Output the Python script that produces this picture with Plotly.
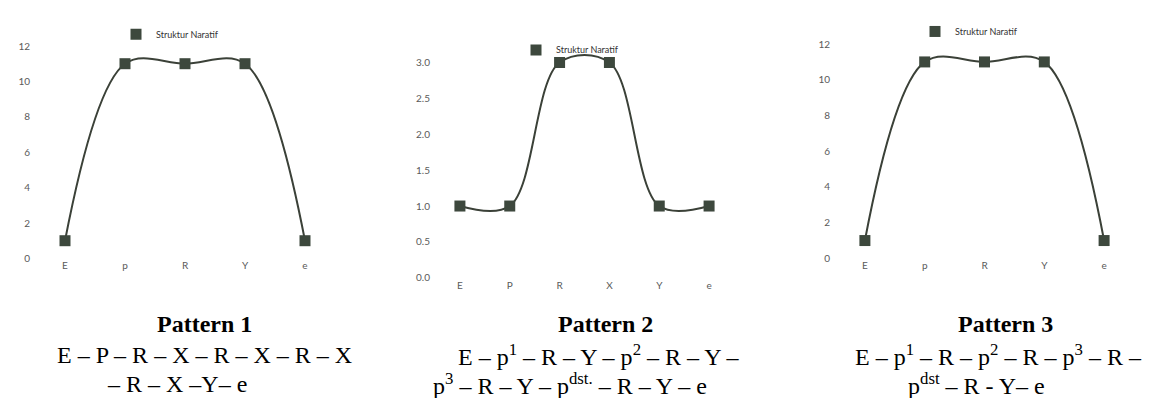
import plotly.graph_objects as go

# data
cats1 = ['E', 'p', 'R', 'Y', 'e']
vals1 = [1, 11, 11, 11, 1]
cats2 = ['E', 'P', 'R', 'X', 'Y', 'e']
vals2 = [1, 1, 3, 3, 1, 1]
cats3 = ['E', 'p', 'R', 'Y', 'e']
vals3 = [1, 11, 11, 11, 1]

series_name = 'Struktur Naratif'
titles = ['Pattern 1', 'Pattern 2', 'Pattern 3']
lines1 = ['E – P – R – X – R – X – R – X', '– R – X –Y– e']
lines2 = ['E – p<sup>1</sup> – R – Y – p<sup>2</sup> – R – Y –',
          'p<sup>3</sup> – R – Y – p<sup>dst.</sup> – R – Y – e']
lines3 = ['E – p<sup>1</sup> – R – p<sup>2</sup> – R – p<sup>3</sup> – R –',
          'p<sup>dst</sup> – R - Y– e']

W, H = 1158, 398
LINE_COL = '#3b4138'
MARK_COL = '#3d483d'
TICK_FONT = dict(family='Lato', size=10, color='#5a5a5a')


def px(x):
    return x / W


def py(y):
    return (H - y) / H


fig = go.Figure()

charts = [
    (cats1, vals1, 'x', 'y', 'legend'),
    (cats2, vals2, 'x2', 'y2', 'legend2'),
    (cats3, vals3, 'x3', 'y3', 'legend3'),
]
for cats, vals, xa, ya, lg in charts:
    fig.add_trace(go.Scatter(
        x=cats, y=vals, mode='lines+markers', name=series_name,
        line=dict(color=LINE_COL, width=2, shape='spline', smoothing=1),
        marker=dict(symbol='square', size=11, color=MARK_COL),
        cliponaxis=False, xaxis=xa, yaxis=ya, showlegend=False))
    # legend entry (square only)
    fig.add_trace(go.Scatter(
        x=[None], y=[None], mode='markers', name=series_name,
        marker=dict(symbol='square', size=11, color=MARK_COL),
        xaxis=xa, yaxis=ya, legend=lg, showlegend=True))

xcommon = dict(type='category', showgrid=False, zeroline=False, showline=False,
               ticks='', tickfont=TICK_FONT)
ycommon = dict(showgrid=False, zeroline=False, showline=False, ticks='',
               tickfont=TICK_FONT, ticklabelstandoff=4)

fig.update_layout(
    width=W, height=H,
    margin=dict(l=0, r=0, t=0, b=0),
    paper_bgcolor='white', plot_bgcolor='white',
    xaxis=dict(xcommon, domain=[px(27), px(327)], range=[-0.5, 4.5], anchor='y'),
    yaxis=dict(ycommon, domain=[py(252), py(33)], range=[0, 12], dtick=2, anchor='x'),
    xaxis2=dict(xcommon, domain=[px(427), px(726)], range=[-0.5, 5.5], anchor='y2'),
    yaxis2=dict(ycommon, domain=[py(272), py(35.2)], range=[0, 3.2], dtick=0.5,
                tickformat='.1f', anchor='x2'),
    xaxis3=dict(xcommon, domain=[px(827), px(1126)], range=[-0.5, 4.5], anchor='y3'),
    yaxis3=dict(ycommon, domain=[py(252), py(31)], range=[0, 12], dtick=2, anchor='x3'),
)

leg = dict(xanchor='left', yanchor='middle', bgcolor='rgba(0,0,0,0)',
           font=dict(family='Lato', size=9, color='#333333'), itemwidth=30)
fig.update_layout(
    legend=dict(leg, x=px(108), y=py(21)),
    legend2=dict(leg, x=px(508), y=py(37)),
    legend3=dict(leg, x=px(907), y=py(18)),
)

# captions under each chart
serif = dict(family='Liberation Serif', size=24, color='black')
caps = [
    (titles[0], 196, lines1, [47, 97]),
    (titles[1], 597, lines2, [448, 423]),
    (titles[2], 997, lines3, [845, 898]),
]
for title, cx, lines, lefts in caps:
    fig.add_annotation(text='<b>' + title + '</b>', x=px(cx), y=py(320),
                       xref='paper', yref='paper', showarrow=False,
                       xanchor='center', yanchor='middle', font=serif)
    for txt, lx, cy in zip(lines, lefts, [352, 382]):
        fig.add_annotation(text=txt, x=px(lx), y=py(cy),
                           xref='paper', yref='paper', showarrow=False,
                           xanchor='left', yanchor='middle', font=serif)

fig.write_html("out.html")
